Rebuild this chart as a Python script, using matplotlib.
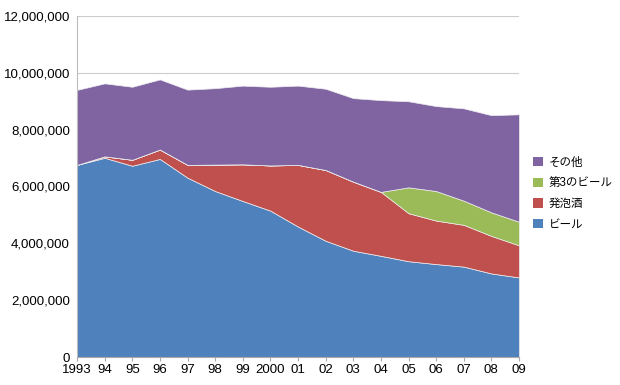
import numpy as np
import matplotlib
matplotlib.use('Agg')
import matplotlib.pyplot as plt
from matplotlib.patches import Patch

plt.rcParams['font.family'] = ['Liberation Sans', 'Noto Sans CJK JP', 'DejaVu Sans']

years = list(range(1993, 2010))
year_labels = ['1993', '94', '95', '96', '97', '98', '99', '2000',
               '01', '02', '03', '04', '05', '06', '07', '08', '09']

# 単位: kl (推定値)
beer = [6.76, 7.01, 6.73, 6.97, 6.31, 5.84, 5.49, 5.15, 4.59, 4.09,
        3.74, 3.56, 3.37, 3.27, 3.18, 2.94, 2.80]
happoshu = [0.0, 0.05, 0.21, 0.33, 0.45, 0.93, 1.29, 1.59, 2.17, 2.49,
            2.43, 2.25, 1.69, 1.53, 1.47, 1.32, 1.13]
third = [0, 0, 0, 0, 0, 0, 0, 0, 0, 0,
         0, 0.0, 0.91, 1.04, 0.85, 0.83, 0.83]
others = [2.64, 2.57, 2.57, 2.47, 2.65, 2.69, 2.77, 2.77, 2.79, 2.86,
          2.94, 3.23, 3.03, 2.99, 3.25, 3.42, 3.78]

names = ['ビール', '発泡酒', '第3のビール', 'その他']
colors = ['#4f81bd', '#c0504d', '#9bbb59', '#8064a2']

m = 1000000
data = [np.array(s) * m for s in [beer, happoshu, third, others]]

fig = plt.figure(figsize=(6.2, 3.85), dpi=100)
ax = fig.add_axes([77/620, 28/385, 442/620, 341/385])

ax.stackplot(years, data, colors=colors, edgecolor='#eeeeee', linewidth=0.5)

ax.set_xlim(1993, 2009)
ax.set_ylim(0, 12000000)
ax.set_yticks(range(0, 12000001, 2000000))
ax.set_yticklabels(['0' if v == 0 else format(v, ',') for v in range(0, 12000001, 2000000)])
ax.set_xticks(years)
ax.set_xticklabels(year_labels)
ax.yaxis.grid(True, color='#cccccc', linewidth=0.8)
ax.set_axisbelow(True)

for s in ['top', 'right']:
    ax.spines[s].set_visible(False)
ax.spines['left'].set_color('#bbbbbb')
ax.spines['bottom'].set_color('#aaaaaa')
ax.tick_params(axis='y', length=0, labelsize=9.5, pad=5)
ax.tick_params(axis='x', length=3, color='#aaaaaa', labelsize=9.5, pad=2)

handles = [Patch(facecolor=c, edgecolor='none') for c in colors[::-1]]
fig.legend(handles, names[::-1], loc='center left', bbox_to_anchor=(0.843, 0.497),
           frameon=False, fontsize=8.3, handlelength=0.9, handleheight=0.9,
           handletextpad=0.45, labelspacing=0.75)

fig.savefig('out.png', dpi=100)
